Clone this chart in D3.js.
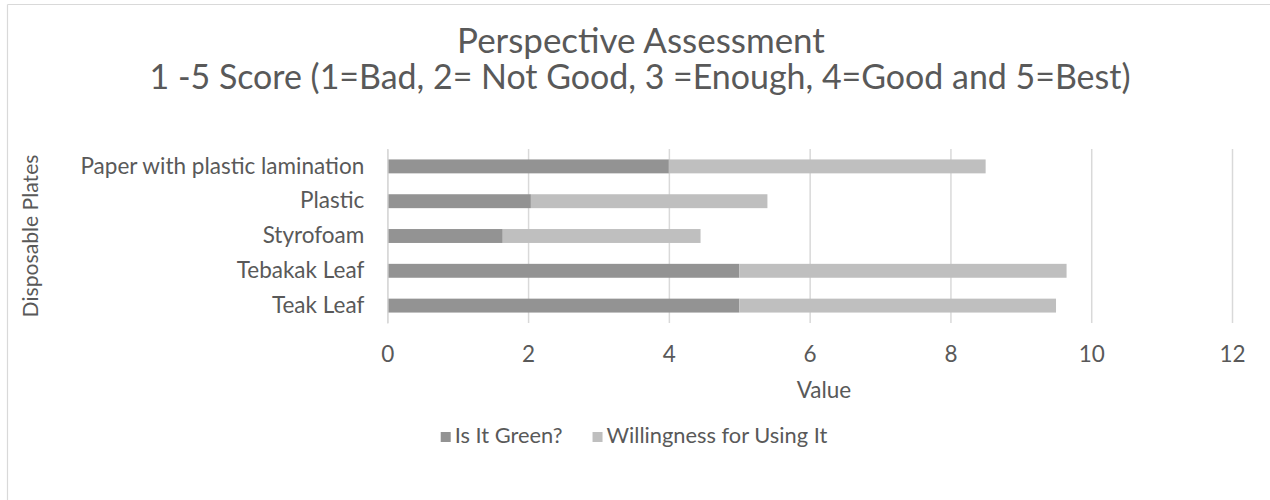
<!DOCTYPE html>
<html><head><meta charset="utf-8">
<script src="https://cdn.jsdelivr.net/npm/d3@7"></script>
<style>body{margin:0;background:#fff}svg{display:block}</style>
</head><body>
<svg id="c" width="1270" height="500"></svg>
<script>
const categories = ["Paper with plastic lamination","Plastic","Styrofoam","Tebakak Leaf","Teak Leaf"];
const isGreen = [4.0, 2.04, 1.64, 5.0, 5.0];
const willingness = [4.5, 3.36, 2.81, 4.65, 4.5];
const seriesNames = ["Is It Green?","Willingness for Using It"];
const xTicks = [0,2,4,6,8,10,12];
const titleLines = ["Perspective Assessment","1 -5 Score (1=Bad, 2= Not Good, 3 =Enough, 4=Good and 5=Best)"];
const xTitle = "Value", yTitle = "Disposable Plates";

(function(){
const colors = ["#939393","#bfbfbf"];
const textColor = "#595959";
const font = "Lato, 'Open Sans', sans-serif";
const svg = d3.select("#c");

// outer frame (partial)
svg.append("line").attr("x1",7.5).attr("x2",7.5).attr("y1",4.5).attr("y2",500).attr("stroke","#d9d9d9").attr("stroke-width",1.2);
svg.append("line").attr("x1",7.5).attr("x2",1270).attr("y1",4.5).attr("y2",4.5).attr("stroke","#d9d9d9").attr("stroke-width",1.2);

const pL = 387.3, pR = 1232, pT = 149, pB = 323;
const x = d3.scaleLinear().domain([0,12]).range([pL,pR]);
const y = d3.scaleBand().domain(categories).range([pT,pB]).paddingInner(0.6).paddingOuter(0.3);

function fit(sel, target){
  const fs = parseFloat(sel.attr("font-size"));
  const w = sel.node().getComputedTextLength();
  sel.attr("font-size", fs*target/w);
}

// gridlines
const grid = svg.append("g").attr("transform",`translate(0,${pB})`)
  .call(d3.axisBottom(x).tickValues(xTicks).tickSize(-(pB-pT)).tickFormat(""));
grid.select(".domain").remove();
grid.selectAll("line").attr("stroke","#d9d9d9").attr("stroke-width",1.5);

// x tick labels
const xa = svg.append("g").attr("transform",`translate(0,${pB})`)
  .call(d3.axisBottom(x).tickValues(xTicks).tickSize(0).tickPadding(23));
xa.select(".domain").remove();
xa.selectAll("text").attr("fill",textColor).attr("font-family",font).attr("font-size",17);

// bars
const stacked = categories.map((c,i)=>({c, a:isGreen[i], b:willingness[i]}));
const g = svg.append("g");
g.selectAll("rect.a").data(stacked).join("rect").attr("class","a")
  .attr("x",x(0)).attr("y",d=>y(d.c)).attr("width",d=>x(d.a)-x(0)).attr("height",y.bandwidth()).attr("fill",colors[0]);
g.selectAll("rect.b").data(stacked).join("rect").attr("class","b")
  .attr("x",d=>x(d.a)).attr("y",d=>y(d.c)).attr("width",d=>x(d.a+d.b)-x(d.a)).attr("height",y.bandwidth()).attr("fill",colors[1]);

// y axis
const ya = svg.append("g").attr("transform",`translate(${pL},0)`)
  .call(d3.axisLeft(y).tickSize(0).tickPadding(23));
ya.select(".domain").attr("stroke","#d9d9d9").attr("stroke-width",1.5);
ya.selectAll("text").attr("fill",textColor).attr("font-family",font).attr("font-size",17);
const refLbl = ya.selectAll("text").filter(d=>d===categories[0]);
fit(refLbl, 284);
const lblSize = +refLbl.attr("font-size");
ya.selectAll("text").attr("font-size",lblSize);
xa.selectAll("text").attr("font-size",lblSize);

// titles
const t1 = svg.append("text").attr("x",641).attr("y",53).attr("text-anchor","middle")
  .attr("fill",textColor).attr("font-family",font).attr("font-size",26).text(titleLines[0]);
fit(t1, 368);
const t2 = svg.append("text").attr("x",640).attr("y",89).attr("text-anchor","middle")
  .attr("fill",textColor).attr("font-family",font).attr("font-size",26).text(titleLines[1]);
fit(t2, 981);

svg.append("text").attr("x",824).attr("y",398).attr("text-anchor","middle")
  .attr("fill",textColor).attr("font-family",font).attr("font-size",lblSize).text(xTitle);
const yt = svg.append("text").attr("transform","translate(38,236) rotate(-90)").attr("text-anchor","middle")
  .attr("fill",textColor).attr("font-family",font).attr("font-size",lblSize).text(yTitle);
fit(yt, 163);

// legend (centered)
const leg = svg.append("g");
const items = seriesNames.map((n,i)=>{
  const t = leg.append("text").attr("y",443).attr("fill",textColor).attr("font-family",font)
    .attr("font-size",lblSize*0.97).text(n);
  return {t, w: t.node().getComputedTextLength(), i};
});
const sq = 10, gap = 4, between = 30;
const total = items.reduce((s,d)=>s+sq+gap+d.w,0) + between*(items.length-1);
let cx = 634 - total/2;
items.forEach(d=>{
  leg.append("rect").attr("x",cx).attr("y",432).attr("width",sq).attr("height",sq).attr("fill",colors[d.i]);
  d.t.attr("x",cx+sq+gap);
  cx += sq+gap+d.w+between;
});
})();
</script>
</body></html>
